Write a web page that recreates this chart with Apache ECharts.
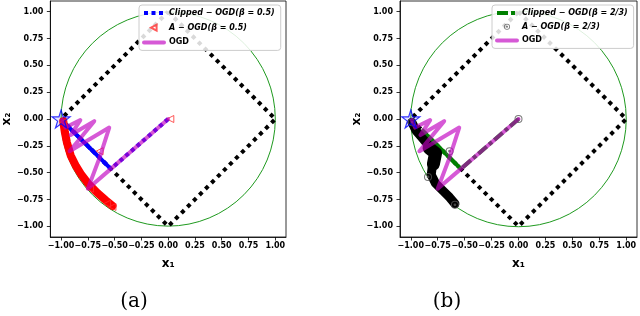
<!DOCTYPE html>
<html><head><meta charset="utf-8">
<script src="https://cdn.jsdelivr.net/npm/echarts@6/dist/echarts.min.js"></script>
<style>html,body{margin:0;padding:0;background:#fff}#c{width:640px;height:316px}</style>
</head><body><div id="c"></div>
<script>
// ---------- data ----------
const tickValues = [-1, -0.75, -0.5, -0.25, 0, 0.25, 0.5, 0.75, 1];
const unitCircle = [[0, 0, 1]]; // centre x, centre y, radius
const l1Ball = [[0, 1], [1, 0], [0, -1], [-1, 0], [0, 1]];
const optimum = [[-1.0, 0.0]];
const ogdPath = [[0, 0], [-0.27, -0.235], [-0.535, -0.465], [-0.75, -0.65], [-0.64, -0.36], [-0.55, -0.08],
  [-0.92, -0.30], [-0.69, -0.02], [-0.91, -0.15], [-0.82, -0.01], [-0.96, -0.08], [-0.99, -0.01]];
// panel (a)
const clippedHalfPath = [[0, 0], [-0.535, -0.465], [-0.97, -0.035]];
const clippedHalfEdge = [[-0.535, -0.465], [-0.97, -0.035]];
const aogdHalfBand = [[-0.98, -0.02], [-0.965, -0.12], [-0.945, -0.22], [-0.91, -0.34], [-0.86, -0.44],
  [-0.81, -0.52], [-0.74, -0.61], [-0.66, -0.69], [-0.58, -0.76], [-0.52, -0.81]];
const aogdHalfMarks = [[0.02, 0.0], [-0.64, -0.30], [-0.73, -0.65], [-0.52, -0.82], [-0.57, -0.79], [-0.98, -0.03]];
// panel (b)
const clippedTwoThirdsPath = [[0, 0], [-0.535, -0.465], [-0.90, -0.10]];
const clippedTwoThirdsEdge = [[-0.535, -0.465], [-0.90, -0.10]];
const aogdTwoThirdsBand = [[-0.99, -0.03], [-0.95, -0.11], [-0.90, -0.17], [-0.84, -0.24], [-0.78, -0.30],
  [-0.79, -0.36], [-0.80, -0.44], [-0.81, -0.52], [-0.77, -0.60], [-0.70, -0.67], [-0.64, -0.73], [-0.59, -0.79]];
const aogdTwoThirdsBulge = [[-0.83, -0.27], [-0.77, -0.32], [-0.79, -0.42]];
const aogdTwoThirdsMarks = [[0.0, 0.0], [-0.64, -0.30], [-0.84, -0.54], [-0.59, -0.80], [-0.99, -0.03]];
const panelCaptions = ['(a)', '(b)'];
const legendNames = {
  clipA: 'Clipped − OGD(β = 0.5)', aA: 'A − OGD(β = 0.5)',
  clipB: 'Clipped − OGD(β = 2/3)', aB: 'A − OGD(β = 2/3)', ogd: 'OGD'
};

// ---------- styles ----------
const FONT = 'DejaVu Sans';
const STAR = 'path://M0,-10 L2.24,-3.09 L9.51,-3.09 L3.63,1.18 L5.88,8.09 L0,3.82 L-5.88,8.09 L-3.63,1.18 L-9.51,-3.09 L-2.24,-3.09 Z';
const ODOT = 'path://M0,-10A10,10 0 1,1 0,10A10,10 0 1,1 0,-10Z M0,-7.5A7.5,7.5 0 1,0 0,7.5A7.5,7.5 0 1,0 0,-7.5Z M0,-3.5A3.5,3.5 0 1,1 0,3.5A3.5,3.5 0 1,1 0,-3.5Z';
// legend icons: lone move-to points pad the bounding box so the marker is drawn small
const TRI_ICON = 'path://M-5,-5 M5,5 M-3,0 L2.6,-3 L2.6,3 Z';
const ODOT_ICON = 'path://M-5,-5 M5,5 M0,-3A3,3 0 1,1 0,3A3,3 0 1,1 0,-3Z M0,-2.2A2.2,2.2 0 1,0 0,2.2A2.2,2.2 0 1,0 0,-2.2Z M0,-1A1,1 0 1,1 0,1A1,1 0 1,1 0,-1Z';
const fmt = v => v.toFixed(2).replace('-', '−');

function xAxisFor(i) {
  return {
    gridIndex: i, type: 'value', min: -1.1, max: 1.1,
    axisLine: { show: true, onZero: false, lineStyle: { color: '#000', width: 0.8 } },
    splitLine: { show: false },
    axisTick: { show: true, length: 3.5, customValues: tickValues, lineStyle: { color: '#000', width: 0.8 } },
    axisLabel: { customValues: tickValues, formatter: fmt, fontFamily: FONT, fontWeight: 'bold', fontSize: 8, color: '#000', margin: 5 },
    name: 'x₁', nameLocation: 'middle', nameGap: 21,
    nameTextStyle: { fontFamily: FONT, fontWeight: 'bold', fontSize: 12, color: '#000' }
  };
}
function yAxisFor(i) {
  return {
    gridIndex: i, type: 'value', min: -1.1, max: 1.1,
    axisLine: { show: true, onZero: false, lineStyle: { color: '#000', width: 0.8 } },
    splitLine: { show: false },
    axisTick: { show: true, length: 3.5, customValues: tickValues, lineStyle: { color: '#000', width: 0.8 } },
    axisLabel: { customValues: tickValues, formatter: fmt, fontFamily: FONT, fontWeight: 'bold', fontSize: 8, color: '#000', margin: 7 },
    name: 'x₂', nameLocation: 'middle', nameGap: 37, nameRotate: 90,
    nameTextStyle: { fontFamily: FONT, fontWeight: 'bold', fontSize: 12, color: '#000' }
  };
}
function circleSeries(i) {
  return {
    type: 'custom', xAxisIndex: i, yAxisIndex: i, data: unitCircle, silent: true, z: 1,
    renderItem: (params, api) => {
      const c = api.coord([api.value(0), api.value(1)]);
      const r = api.size([api.value(2), 0])[0];
      return { type: 'circle', shape: { cx: c[0], cy: c[1], r: r }, style: { fill: 'none', stroke: '#1f9a1f', lineWidth: 1 } };
    }
  };
}
function diamondSeries(i) {
  return {
    type: 'line', xAxisIndex: i, yAxisIndex: i, data: l1Ball, symbol: 'none', z: 2,
    lineStyle: { color: '#000', width: 4, type: [4, 4.5], cap: 'butt' }
  };
}
function ogdSeries(i) {
  return {
    name: legendNames.ogd, type: 'line', xAxisIndex: i, yAxisIndex: i, data: ogdPath, symbol: 'none', z: 5,
    itemStyle: { color: '#c000c0' },
    lineStyle: { color: '#c000c0', width: 4, opacity: 0.65, join: 'round', cap: 'round' }
  };
}
function starSeries(i) {
  return {
    type: 'scatter', xAxisIndex: i, yAxisIndex: i, data: optimum, symbol: STAR, symbolSize: 18, z: 6,
    itemStyle: { color: 'rgba(0,0,255,0.12)', borderColor: '#0000ff', borderWidth: 1.2 }
  };
}
function legendFor(left, clipName, aName, aIcon) {
  return {
    left: left, top: 5, orient: 'vertical', padding: [3, 6, 3, 3], itemGap: 3.7, itemWidth: 20, itemHeight: 10,
    backgroundColor: 'rgba(255,255,255,0.85)', borderColor: '#cccccc', borderWidth: 1, borderRadius: 3,
    selectedMode: false, symbolRotate: 0,
    textStyle: { fontFamily: FONT, fontWeight: 'bold', fontStyle: 'italic', fontSize: 8, color: '#000', lineHeight: 10 },
    lineStyle: { width: 4 },
    data: [
      { name: clipName, itemStyle: { opacity: 0 } },
      { name: aName, icon: aIcon },
      { name: legendNames.ogd, itemStyle: { opacity: 0 }, textStyle: { fontStyle: 'normal' } }
    ]
  };
}

const option = {
  animation: false,
  backgroundColor: '#fff',
  grid: [
    { left: 49, top: 1, width: 237, height: 236, show: true, borderColor: '#000', borderWidth: 0.8 },
    { left: 400, top: 1, width: 237, height: 236, show: true, borderColor: '#000', borderWidth: 0.8 }
  ],
  xAxis: [xAxisFor(0), xAxisFor(1)],
  yAxis: [yAxisFor(0), yAxisFor(1)],
  legend: [legendFor(139, legendNames.clipA, legendNames.aA, TRI_ICON), legendFor(492, legendNames.clipB, legendNames.aB, ODOT_ICON)],
  graphic: [
    { type: 'text', x: 134, y: 302, style: { text: panelCaptions[0], fontFamily: 'DejaVu Serif', fontSize: 20, fill: '#000', align: 'center', verticalAlign: 'middle' } },
    { type: 'text', x: 447, y: 302, style: { text: panelCaptions[1], fontFamily: 'DejaVu Serif', fontSize: 20, fill: '#000', align: 'center', verticalAlign: 'middle' } }
  ],
  series: [
    // panel (a)
    circleSeries(0), diamondSeries(0),
    { name: legendNames.clipA, type: 'line', xAxisIndex: 0, yAxisIndex: 0, data: clippedHalfPath, symbol: 'none', z: 3,
      itemStyle: { color: '#0000ff' }, lineStyle: { color: '#0000ff', width: 4, type: [4, 3.5], cap: 'butt' } },
    { type: 'line', xAxisIndex: 0, yAxisIndex: 0, data: clippedHalfEdge, symbol: 'none', z: 3,
      lineStyle: { color: '#0000ff', width: 4 } },
    { type: 'line', xAxisIndex: 0, yAxisIndex: 0, data: aogdHalfBand, symbol: 'none', z: 4,
      lineStyle: { color: '#ff0000', width: 8, cap: 'round', join: 'round' } },
    { name: legendNames.aA, type: 'scatter', xAxisIndex: 0, yAxisIndex: 0, data: aogdHalfMarks, z: 4,
      symbol: 'triangle', symbolSize: 7, symbolRotate: 90,
      itemStyle: { color: 'rgba(255,255,255,0)', borderColor: '#ff3030', borderWidth: 1 } },
    ogdSeries(0), starSeries(0),
    // panel (b)
    circleSeries(1), diamondSeries(1),
    { name: legendNames.clipB, type: 'line', xAxisIndex: 1, yAxisIndex: 1, data: clippedTwoThirdsPath, symbol: 'none', z: 3,
      itemStyle: { color: '#008000' }, lineStyle: { color: '#008000', width: 4, type: [11, 3, 4, 3], cap: 'butt' } },
    { type: 'line', xAxisIndex: 1, yAxisIndex: 1, data: clippedTwoThirdsEdge, symbol: 'none', z: 3,
      lineStyle: { color: '#008000', width: 4 } },
    { type: 'line', xAxisIndex: 1, yAxisIndex: 1, data: aogdTwoThirdsBand, symbol: 'none', z: 4,
      lineStyle: { color: '#000', width: 9, cap: 'round', join: 'round' } },
    { type: 'line', xAxisIndex: 1, yAxisIndex: 1, data: aogdTwoThirdsBulge, symbol: 'none', z: 4,
      lineStyle: { color: '#000', width: 13, cap: 'round', join: 'round' } },
    { name: legendNames.aB, type: 'scatter', xAxisIndex: 1, yAxisIndex: 1, data: aogdTwoThirdsMarks, z: 4,
      symbol: ODOT, symbolSize: 8, itemStyle: { color: '#555' } },
    ogdSeries(1), starSeries(1)
  ]
};
const chart = echarts.init(document.getElementById('c'), null, { renderer: 'canvas' });
chart.setOption(option);
</script></body></html>
